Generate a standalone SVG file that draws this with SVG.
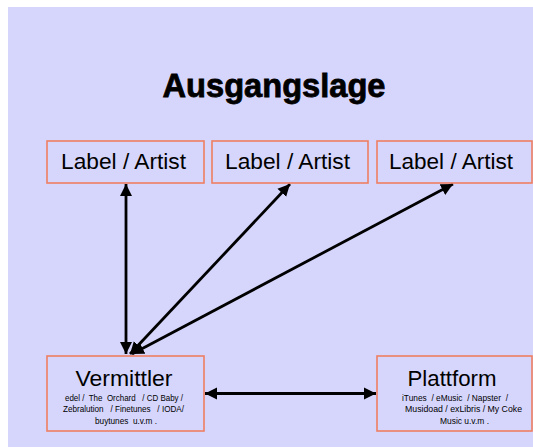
<svg xmlns="http://www.w3.org/2000/svg" width="533" height="448" viewBox="0 0 533 448">
<defs>
<style>
.bg{fill:#d6d6fc}
.box{fill:#d6d6fc;stroke:#ee7f62;stroke-width:1.6}
.big{font-family:"Liberation Sans",Arial,sans-serif;font-size:22.5px;fill:#000;text-anchor:middle}
.small{font-family:"Liberation Sans",Arial,sans-serif;font-size:9.5px;fill:#000}
.title{font-family:"Liberation Sans",Arial,sans-serif;font-size:33px;font-weight:bold;fill:#000;stroke:#000;stroke-width:0.8;text-anchor:middle}
.conn{stroke:#000;fill:none;stroke-width:2.8}
</style>
<marker id="ah" markerUnits="userSpaceOnUse" markerWidth="14" markerHeight="13" refX="12" refY="6.5" orient="auto-start-reverse" viewBox="0 0 14 13">
<path d="M0,0.5 L12,6.5 L0,12.5 z" fill="#000"/>
</marker>
</defs>
<rect x="0" y="0" width="533" height="448" fill="#ffffff"/>
<rect class="bg" x="8" y="7" width="525" height="440"/>
<text class="title" x="274" y="97" textLength="223" lengthAdjust="spacingAndGlyphs">Ausgangslage</text>
<g id="connectors">
<line class="conn" x1="126" y1="354" x2="126" y2="184" stroke-width="3.2" marker-start="url(#ah)" marker-end="url(#ah)"/>
<line class="conn" x1="130" y1="354" x2="290" y2="184" marker-start="url(#ah)" marker-end="url(#ah)"/>
<line class="conn" x1="132" y1="354" x2="453" y2="184" marker-start="url(#ah)" marker-end="url(#ah)"/>
<line class="conn" x1="205" y1="393.5" x2="376" y2="393.5" stroke-width="3.2" marker-start="url(#ah)" marker-end="url(#ah)"/>
</g>
<g id="label1">
<rect class="box" x="47" y="141" width="157" height="42"/>
<text class="big" x="123.5" y="169" textLength="125" lengthAdjust="spacingAndGlyphs">Label / Artist</text>
</g>
<g id="label2">
<rect class="box" x="212" y="141" width="156" height="42"/>
<text class="big" x="287.5" y="169" textLength="125" lengthAdjust="spacingAndGlyphs">Label / Artist</text>
</g>
<g id="label3">
<rect class="box" x="377" y="141" width="155" height="42"/>
<text class="big" x="451" y="169" textLength="124" lengthAdjust="spacingAndGlyphs">Label / Artist</text>
</g>
<g id="vermittler">
<rect class="box" x="47" y="356" width="157" height="75"/>
<text class="big" x="124" y="385.5" font-size="23" textLength="97" lengthAdjust="spacingAndGlyphs">Vermittler</text>
<text class="small" x="65" y="400.5" textLength="118" lengthAdjust="spacingAndGlyphs" xml:space="preserve">edel /  The  Orchard   / CD Baby /</text>
<text class="small" x="63" y="412" textLength="121" lengthAdjust="spacingAndGlyphs" xml:space="preserve">Zebralution   / Finetunes   / IODA/</text>
<text class="small" x="95" y="423.5" textLength="62" lengthAdjust="spacingAndGlyphs" xml:space="preserve">buytunes  u.v.m .</text>
</g>
<g id="plattform">
<rect class="box" x="377" y="356" width="155" height="75"/>
<text class="big" x="452" y="385.5" font-size="23" textLength="89" lengthAdjust="spacingAndGlyphs">Plattform</text>
<text class="small" x="402" y="400.5" textLength="106" lengthAdjust="spacingAndGlyphs" xml:space="preserve">iTunes  / eMusic  / Napster  /</text>
<text class="small" x="405" y="412" textLength="117" lengthAdjust="spacingAndGlyphs">Musidoad / exLibris / My Coke</text>
<text class="small" x="440" y="423.5" textLength="49" lengthAdjust="spacingAndGlyphs" xml:space="preserve">Music u.v.m .</text>
</g>
</svg>
